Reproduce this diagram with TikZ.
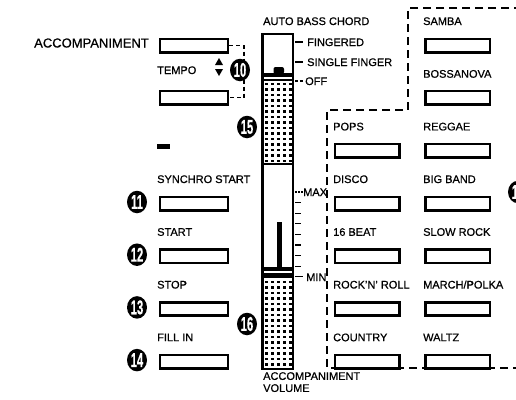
\documentclass[tikz,border=0pt]{standalone}
\usepackage{fontspec}
\setmainfont{Liberation Sans}[FakeBold=0.6]
\usetikzlibrary{shapes.geometric}
\begin{document}
\begin{tikzpicture}[x=1pt,y=-1pt,
  lbl/.style={font=\fontsize{11}{12}\selectfont, anchor=base west, inner sep=0pt},
  btnL/.style={draw, line width=2.6pt, minimum width=68pt, minimum height=13.5pt, inner sep=0pt, anchor=north west},
  btnR/.style={draw, line width=2.6pt, minimum width=64.5pt, minimum height=13.5pt, inner sep=0pt, anchor=north west},
  num/.style={ellipse, fill=black, text=white, minimum width=20pt, minimum height=22.5pt, inner sep=0pt,
     font=\fontsize{20}{20}\selectfont\bfseries},
  dsh/.style={line width=1.9pt, dash pattern=on 8pt off 5pt},
  bdsh/.style={line width=1.6pt, dash pattern=on 4pt off 3pt},
  tick/.style={line width=1.3pt},
  dotpat/.style={fill=black}]
\useasboundingbox (0,0) rectangle (516,399);
\clip (0,0) rectangle (516,399);
\fill[white] (0,0) rectangle (516,399);

% ---------- left column ----------
\node[lbl, font=\fontsize{13}{13}\selectfont, anchor=base east] (acclbl) at (149,47.5) {ACCOMPANIMENT};
\node[btnL] (accA) at (158.5,37.5) {};
\node[lbl] (tempo) at (157,74) {TEMPO};
\fill (215,65) -- (223,65) -- (219,58) -- cycle;
\fill (215,69) -- (223,69) -- (219,76) -- cycle;
\node[btnL] (accB) at (158.5,89.5) {};
\draw[bdsh] (accA.east) -- ++(15,0) |- (accB.east);
\node[num] (n10) at (240,70) {\scalebox{0.56}[1]{10}};

\node[fill=black, minimum width=13pt, minimum height=5.5pt, inner sep=0pt, anchor=north west] (ind) at (157,143.5) {};

\node[lbl] (synlbl) at (157,183) {SYNCHRO START};
\node[btnL] (syn) at (158.5,195.5) {};
\node[num] (n11) at (137,202) {\scalebox{0.56}[1]{11}};

\node[lbl] (stalbl) at (157,235.8) {START};
\node[btnL] (sta) at (158.5,248.2) {};
\node[num] (n12) at (137,254.7) {\scalebox{0.56}[1]{12}};

\node[lbl] (stolbl) at (157,288.5) {STOP};
\node[btnL] (sto) at (158.5,300.9) {};
\node[num] (n13) at (137,307.4) {\scalebox{0.56}[1]{13}};

\node[lbl] (fillbl) at (157,341.2) {FILL IN};
\node[btnL] (fil) at (158.5,353.6) {};
\node[num] (n14) at (137,360.1) {\scalebox{0.56}[1]{14}};

% ---------- slider ----------
\node[lbl] (abc) at (263,25) {AUTO BASS CHORD};
% upper knob
\fill[rounded corners=2pt] (273.5,67) rectangle (284,74);
\fill (263,73) rectangle (292,77);
\fill (263,78.5) rectangle (292,80.5);
% dotted regions
\foreach \r in {0,...,14} \foreach \c in {0,...,4}
  \fill[dotpat] (265.3+\c*5.8, 82.5+\r*5.5) rectangle ++(3,2.8);
\draw[line width=1.6pt] (263,164) -- (292,164);
% volume knob
\fill (277,222) rectangle (281.5,268);
\fill (263,267) rectangle (292,270.5);
\fill (263,273) rectangle (292,278);
\foreach \r in {0,...,15} \foreach \c in {0,...,4}
  \fill[dotpat] (265.3+\c*5.8, 280.5+\r*5.5) rectangle ++(3,2.8);
% housing
\draw[line width=2.6pt] (262.5,34) rectangle (292.8,369);
% ticks upper
\draw[tick] (295,42) -- (303,42);
\node[lbl] (fing) at (307,46) {FINGERED};
\draw[tick] (295,62) -- (303,62);
\node[lbl] (sing) at (307,66) {SINGLE FINGER};
\draw[tick, dash pattern=on 3pt off 1.5pt] (295,81) -- (303,81);
\node[lbl] (off) at (305,85) {OFF};
% ticks volume
\draw[tick, dash pattern=on 1.5pt off 1.5pt] (295,192) -- (303,192);
\node[lbl] (max) at (303,196) {MAX};
\foreach \i in {1,...,7} \draw[tick] (295,192+\i*10.6) -- (301,192+\i*10.6);
\draw[tick] (295,276.8) -- (303,276.8);
\node[lbl] (min) at (306,281) {MIN};
\node[lbl, align=left, anchor=north west] (vol) at (263,372) {ACCOMPANIMENT\\VOLUME};
\node[num] (n15) at (247,127) {\scalebox{0.56}[1]{15}};
\node[num] (n16) at (247,324) {\scalebox{0.56}[1]{16}};

% ---------- right block ----------
\draw[dsh] (522,8) -- (408,8) -- (408,110) -- (327,110) -- (327,368) -- (522,368);
\node[lbl] (samlbl) at (423,25) {SAMBA};
\node[btnR] (sam) at (424,37.5) {};
\node[lbl] (boslbl) at (423,77.7) {BOSSANOVA};
\node[btnR] (bos) at (424,89.5) {};
\node[lbl] (poplbl) at (333,130.4) {POPS};
\node[btnR] (pop) at (333.5,142.7) {};
\node[lbl] (reglbl) at (423,130.4) {REGGAE};
\node[btnR] (reg) at (424,142.7) {};
\node[lbl] (dislbl) at (333,183) {DISCO};
\node[btnR] (dis) at (333.5,195.5) {};
\node[lbl] (biglbl) at (423,183) {BIG BAND};
\node[btnR] (big) at (424,195.5) {};
\node[lbl] (beatlbl) at (333,235.8) {16 BEAT};
\node[btnR] (beat) at (333.5,248.2) {};
\node[lbl] (slowlbl) at (423,235.8) {SLOW ROCK};
\node[btnR] (slow) at (424,248.2) {};
\node[lbl] (rocklbl) at (333,288.5) {ROCK’N’ ROLL};
\node[btnR] (rock) at (333.5,300.9) {};
\node[lbl] (marlbl) at (423,288.5) {MARCH/POLKA};
\node[btnR] (mar) at (424,300.9) {};
\node[lbl] (coulbl) at (333,341.2) {COUNTRY};
\node[btnR] (cou) at (333.5,353.6) {};
\node[lbl] (wallbl) at (423,341.2) {WALTZ};
\node[btnR] (wal) at (424,353.6) {};
\node[num] (n17) at (518,192) {\scalebox{0.56}[1]{17}};
\end{tikzpicture}
\end{document}
